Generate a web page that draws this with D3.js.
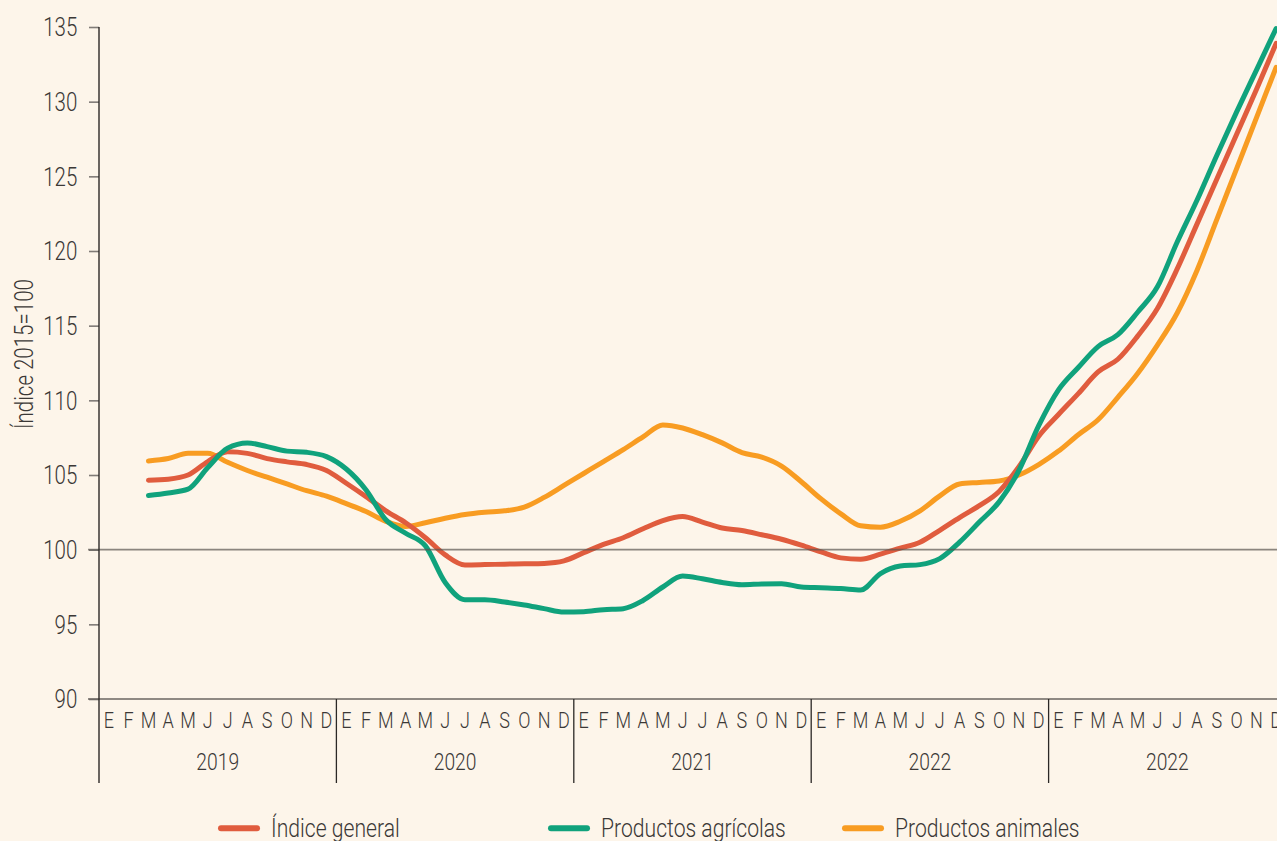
<!DOCTYPE html>
<html lang="es">
<head>
<meta charset="utf-8">
<title>Índice de precios</title>
<script src="https://cdn.jsdelivr.net/npm/d3@7"></script>
<style>
  html, body { margin: 0; padding: 0; background: #fdf5ea; }
  svg { display: block; }
  text { font-family: Roboto, "Noto Sans", sans-serif; font-weight: 300; fill: #3b3836; }
</style>
</head>
<body>
<svg id="chart" width="1277" height="841"></svg>
<script>
// ---- data ----------------------------------------------------------------
const years = ["2019", "2020", "2021", "2022", "2022"];
const monthLetters = ["E", "F", "M", "A", "M", "J", "J", "A", "S", "O", "N", "D"];
const yTicks = [90, 95, 100, 105, 110, 115, 120, 125, 130, 135];

// monthly values, first value = March of the first year
const firstMonth = 2;

const indiceGeneral = [
  104.65, 104.72, 105.0, 105.9, 106.55, 106.45, 106.1, 105.88, 105.7, 105.3,
  104.45, 103.55, 102.6, 101.8, 100.8, 99.65, 98.98, 99.0, 99.03, 99.05, 99.08, 99.25,
  99.8, 100.35, 100.8, 101.4, 101.95, 102.22, 101.85, 101.45, 101.28, 101.0, 100.7, 100.3,
  99.85, 99.45, 99.36, 99.7, 100.1, 100.5, 101.3, 102.15, 102.95, 103.9, 105.55, 107.6,
  109.05, 110.45, 111.9, 112.75, 114.3, 116.15, 118.8, 121.8, 124.8, 127.8, 130.8, 133.9
];

const productosAgricolas = [
  103.63, 103.8, 104.05, 105.5, 106.8, 107.15, 106.9, 106.6, 106.52, 106.23,
  105.4, 104.0, 102.0, 101.1, 100.25, 97.8, 96.65, 96.65, 96.5, 96.3, 96.05, 95.82,
  95.85, 95.98, 96.05, 96.6, 97.5, 98.23, 98.05, 97.8, 97.65, 97.7, 97.72, 97.5,
  97.45, 97.4, 97.3, 98.4, 98.9, 99.0, 99.4, 100.5, 101.85, 103.2, 105.3, 108.3,
  110.7, 112.2, 113.6, 114.4, 115.9, 117.6, 120.6, 123.4, 126.4, 129.3, 132.1, 134.9
];

const productosAnimales = [
  105.94, 106.1, 106.45, 106.45, 105.85, 105.3, 104.85, 104.4, 103.95, 103.58,
  103.08, 102.55, 101.9, 101.55, 101.8, 102.1, 102.35, 102.5, 102.6, 102.85, 103.5, 104.3,
  105.1, 105.9, 106.7, 107.55, 108.35, 108.15, 107.7, 107.15, 106.5, 106.2, 105.6, 104.55,
  103.4, 102.4, 101.6, 101.5, 101.9, 102.6, 103.6, 104.4, 104.5, 104.6, 105.0, 105.7,
  106.6, 107.7, 108.7, 110.2, 111.8, 113.7, 115.85, 118.7, 122.1, 125.5, 128.9, 132.3
];

const seriesNames = ["Índice general", "Productos agrícolas", "Productos animales"];
const seriesValues = [indiceGeneral, productosAgricolas, productosAnimales];
const seriesColors = ["#e05c3e", "#10a27c", "#f89c22"];

// ---- layout --------------------------------------------------------------
const W = 1277, H = 841;
const plotLeft = 99, plotRight = 1286, plotTop = 27, plotBottom = 699;
const axisFoot = 783;          // lower end of the year separators
const condense = 0.82;         // horizontal squeeze that gives a condensed face

const svg = d3.select("#chart");
svg.append("rect").attr("width", W).attr("height", H).attr("fill", "#fdf5ea");

const nMonths = years.length * 12;
const x = d3.scaleLinear().domain([0, nMonths]).range([plotLeft, plotRight]);
const y = d3.scaleLinear().domain([90, 135]).range([plotBottom, plotTop]);

// condensed text helper
function label(parent, px, py, str, size, anchor, extra) {
  const g = parent.append("g")
    .attr("transform", `translate(${px},${py}) ${extra || ""} scale(${condense},1)`);
  return g.append("text")
    .attr("text-anchor", anchor)
    .attr("font-size", size)
    .text(str);
}

// ---- y axis --------------------------------------------------------------
const yAxis = d3.axisLeft(y).tickValues(yTicks).tickSize(10).tickPadding(0).tickFormat(d3.format("d"));
const gy = svg.append("g").attr("transform", `translate(${plotLeft},0)`).call(yAxis);
gy.select(".domain").remove();
gy.selectAll(".tick line").attr("stroke", "#807b77").attr("stroke-width", 1.6);
gy.selectAll(".tick text")
  .attr("font-family", "Roboto, 'Noto Sans', sans-serif")
  .attr("font-weight", 300)
  .attr("font-size", 25)
  .attr("fill", "#3b3836")
  .attr("x", -21.7 / condense)
  .attr("dy", "0.355em")
  .attr("transform", `scale(${condense},1)`);

// y axis title
label(svg, 33, 354, "Índice 2015=100", 25, "middle", "rotate(-90)");

// ---- series lines --------------------------------------------------------
const line = d3.line()
  .x((d, i) => x(firstMonth + i + 0.5))
  .y(d => y(d))
  .curve(d3.curveMonotoneX);

const drawOrder = [2, 0, 1];
svg.append("g").selectAll("path")
  .data(drawOrder)
  .join("path")
  .attr("d", k => line(seriesValues[k]))
  .attr("fill", "none")
  .attr("stroke", k => seriesColors[k])
  .attr("stroke-width", 5)
  .attr("stroke-linecap", "round")
  .attr("stroke-linejoin", "round");

// reference line at 100 and base line at 90
svg.append("line")
  .attr("x1", plotLeft - 11).attr("x2", W)
  .attr("y1", y(100)).attr("y2", y(100))
  .attr("stroke", "#5a5550").attr("stroke-opacity", 0.7).attr("stroke-width", 1.8);
svg.append("line")
  .attr("x1", plotLeft - 11).attr("x2", W)
  .attr("y1", y(90)).attr("y2", y(90))
  .attr("stroke", "#6a6560").attr("stroke-width", 1.6);

// vertical axis line
svg.append("line")
  .attr("x1", plotLeft).attr("x2", plotLeft)
  .attr("y1", y(135)).attr("y2", axisFoot)
  .attr("stroke", "#2b2826").attr("stroke-width", 1.4);

// ---- x axis: months and years -------------------------------------------
const gx = svg.append("g");
years.forEach((yr, k) => {
  if (k > 0) {
    gx.append("line")
      .attr("x1", x(k * 12)).attr("x2", x(k * 12))
      .attr("y1", plotBottom).attr("y2", axisFoot)
      .attr("stroke", "#2b2826").attr("stroke-width", 1.3);
  }
  monthLetters.forEach((m, i) => {
    label(gx, x(k * 12 + i + 0.5), 727.5, m, 22, "middle");
  });
  label(gx, x(k * 12 + 6), 769.5, yr, 23.5, "middle");
});

// ---- legend --------------------------------------------------------------
const legendX = [218, 548, 842];
const legend = svg.append("g");
seriesNames.forEach((name, k) => {
  legend.append("line")
    .attr("x1", legendX[k] + 3).attr("x2", legendX[k] + 39)
    .attr("y1", 828.3).attr("y2", 828.3)
    .attr("stroke", seriesColors[k])
    .attr("stroke-width", 6)
    .attr("stroke-linecap", "round");
  label(legend, legendX[k] + 53, 837, name, 25.8, "start");
});
</script>
</body>
</html>
